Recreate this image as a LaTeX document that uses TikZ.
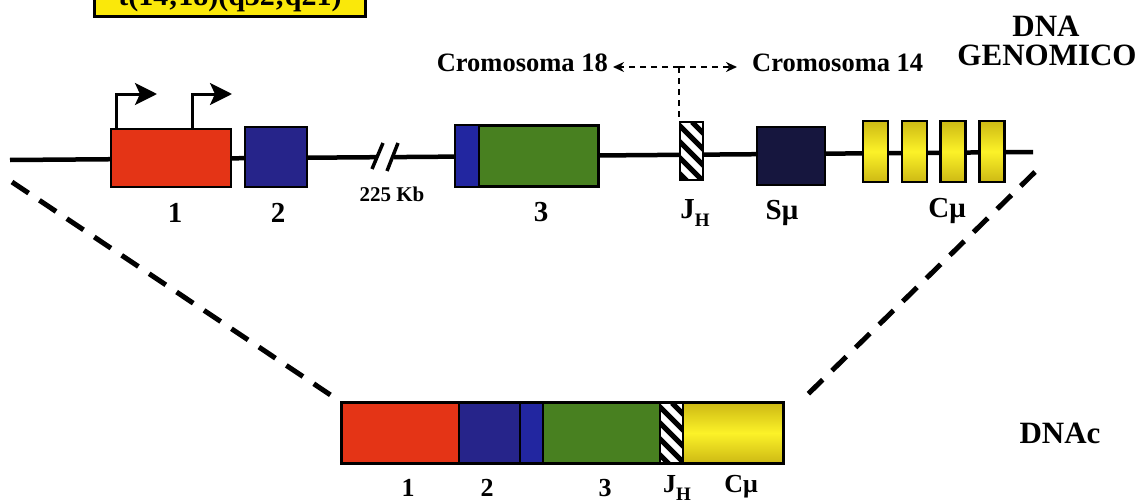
\documentclass[tikz,border=0pt]{standalone}
\usepackage{fontspec}
\setmainfont{Liberation Serif}
\usetikzlibrary{arrows.meta}

\definecolor{exred}{RGB}{228,52,22}
\definecolor{exblue}{RGB}{38,36,138}
\definecolor{exblueb}{RGB}{34,38,160}
\definecolor{exgreen}{RGB}{72,128,32}
\definecolor{exnavy}{RGB}{22,22,62}
\definecolor{yelllite}{RGB}{252,242,40}
\definecolor{yelldark}{RGB}{205,185,20}
\definecolor{tagyellow}{RGB}{250,232,10}

\newcommand{\JH}{J\raisebox{-0.28em}{\fontsize{19}{19}\selectfont H}}

\begin{document}
\begin{tikzpicture}[x=1pt,y=-1pt,
  gene/.style={draw=black, line width=2.2pt, rectangle, inner sep=0pt},
  cmu/.style={gene, minimum width=25pt, minimum height=61pt,
    top color=yelldark, bottom color=yelldark, middle color=yelllite},
  hatchbox/.style={gene, fill=white, path picture={
      \foreach \k in {-100,-84,...,40}
        \draw[line width=5pt] (path picture bounding box.north west) ++(\k,0) -- ++(110,110);}},
  numlbl/.style={font=\fontsize{29}{30}\selectfont\bfseries, inner sep=0pt},
  sublbl/.style={font=\fontsize{26}{28}\selectfont\bfseries, inner sep=0pt},
  chrom/.style={font=\fontsize{26.5}{28}\selectfont\bfseries, inner sep=0pt},
  title/.style={font=\fontsize{31}{32}\selectfont\bfseries, inner sep=0pt},
  dna/.style={line width=4.5pt},
  zoomline/.style={line width=5pt, dash pattern=on 20pt off 13pt},
  chromline/.style={line width=2pt, dash pattern=on 6pt off 5pt},
  promoter/.style={line width=3pt, -{Stealth[length=22pt,width=22pt,inset=5pt]}},
]
\path[use as bounding box] (0,0) rectangle (1147,503);
\clip (0,0) rectangle (1147,503);

% translocation tag at the top
\node[gene, fill=tagyellow, line width=2.6pt, anchor=south west,
      minimum width=271pt, minimum height=60pt] (tag) at (93,18) {};
\node[font=\fontsize{30}{30}\selectfont\bfseries, inner sep=0pt, anchor=base]
      (tagtxt) at (230,6) {t(14;18)(q32;q21)};

% genomic DNA backbone
\coordinate (lstart) at (10,160);
\coordinate (brkA) at (376,157.2);
\coordinate (brkB) at (394,157.1);
\coordinate (lend) at (1033,152);
\draw[dna] (lstart) -- (brkA);
\draw[dna] (brkB) -- (lend);
\draw[line width=3.5pt] (372,169) -- (383,143);
\draw[line width=3.5pt] (387,171) -- (398,143);
\node[font=\fontsize{21}{22}\selectfont\bfseries, inner sep=0pt] (kb) at (392,194) {225 Kb};

% exons and segments of the genomic locus
\node[gene, fill=exred, minimum width=120pt, minimum height=58pt] (e1) at (171,158) {};
\node[gene, fill=exblue, minimum width=62pt, minimum height=60pt] (e2) at (276,157) {};
\node[gene, fill=exgreen, minimum width=142pt, minimum height=60pt] (e3) at (527,156) {};
\fill[exblueb] ([shift={(1.1,1.1)}]e3.north west) rectangle ([shift={(24,-1.1)}]e3.south west);
\draw[line width=2pt] ([xshift=24]e3.north west) -- ([xshift=24]e3.south west);
\draw[gene] (e3.north west) rectangle (e3.south east);
\node[hatchbox, minimum width=23pt, minimum height=58pt] (jh) at (691.5,151) {};
\node[gene, fill=exnavy, minimum width=68pt, minimum height=58pt] (smu) at (791,156) {};
\node[cmu] (c1) at (875.5,151.5) {};
\node[cmu] (c2) at (914.5,151.5) {};
\node[cmu] (c3) at (953,151.5) {};
\node[cmu] (c4) at (992,151.5) {};

% promoters
\draw[promoter] ([xshift=7]e1.north west) |- (157,94);
\draw[promoter] ([xshift=83]e1.north west) |- (232,94);

% labels of the genomic locus
\node[numlbl] (l1) at (175,213) {1};
\node[numlbl] (l2) at (278,213) {2};
\node[numlbl] (l3) at (541,212) {3};
\node[numlbl] (ljh) at (695,213) {\JH};
\node[numlbl] (lsmu) at (782,213) {Sμ};
\node[numlbl] (lcmu) at (947,211) {Cμ};

% breakpoint between the two chromosomes
\coordinate (jn) at (679,67);
\coordinate (t18) at (613,67);
\coordinate (t14) at (737,67);
\node[chrom, anchor=east] (c18) at (608,63) {Cromosoma 18};
\node[chrom, anchor=west] (c14) at (752,63) {Cromosoma 14};
\draw[chromline, -{Stealth[length=11pt,width=10pt]}] (jn) -- (t18);
\draw[chromline, -{Stealth[length=11pt,width=10pt]}] (jn) -- (t14);
\draw[chromline] (jn) -- (jn |- jh.north);

\node[title, anchor=base] (tdna) at (1046,37) {DNA};
\node[title, anchor=base] (tgen) at (1047,66) {GENOMICO};

% cDNA transcript
\node[gene, fill=exred, minimum width=117pt, minimum height=60pt] (d1) at (400.5,433) {};
\node[gene, fill=exblue, minimum width=61pt, minimum height=60pt] (d2) at (489.5,433) {};
\node[gene, fill=exblueb, minimum width=23pt, minimum height=60pt] (d2b) at (531.5,433) {};
\node[gene, fill=exgreen, minimum width=117pt, minimum height=60pt] (d3) at (601.5,433) {};
\node[hatchbox, minimum width=23pt, minimum height=60pt] (djh) at (671.5,433) {};
\node[gene, minimum width=100pt, minimum height=60pt,
      top color=yelldark, bottom color=yelldark, middle color=yelllite] (dcmu) at (733,433) {};
\draw[line width=2.6pt] (d1.north west) rectangle (dcmu.south east);

\node[sublbl] (m1) at (408,488) {1};
\node[sublbl] (m2) at (487,488) {2};
\node[sublbl] (m3) at (605,488) {3};
\node[sublbl] (mjh) at (677,488) {\JH};
\node[sublbl] (mcmu) at (741,487) {Cμ};

\node[title] (tcdna) at (1060,433) {DNAc};

% zoom lines from the genomic locus to the transcript
\draw[zoomline] (12,182) -- (d1.north west);
\draw[zoomline] (1035,172) -- ([shift={(20,-4)}]dcmu.north east);
\end{tikzpicture}
\end{document}
